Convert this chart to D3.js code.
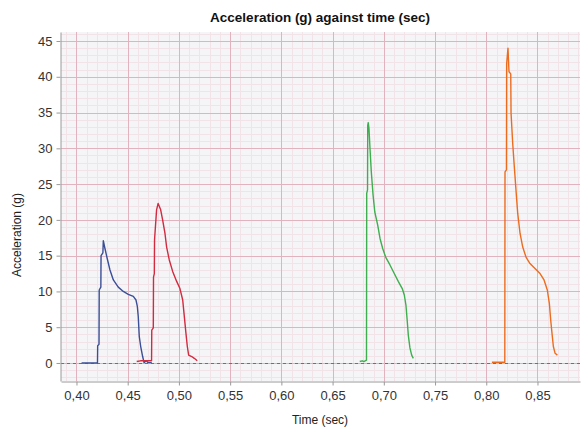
<!DOCTYPE html>
<html>
<head>
<meta charset="utf-8">
<script src="https://cdn.jsdelivr.net/npm/d3@7"></script>
<style>
  body { margin: 0; background: #fff; }
  text { font-family: "Liberation Sans", Arial, sans-serif; }
</style>
</head>
<body>
<svg id="chart" width="581" height="432"></svg>
<script>
// data: [time (sec), acceleration (g)]
var blue = [[0.405,0],[0.4205,0],[0.4207,2.4],[0.4220,2.6],[0.4222,10.2],[0.4238,10.6],[0.424,15],
  [0.4258,15.4],[0.4262,17.1],[0.4278,16.0],[0.430,14.6],
  [0.4327,13.0],[0.436,11.6],[0.4408,10.6],[0.4457,10.0],[0.4506,9.6],[0.4555,9.3],[0.4581,8.8],
  [0.4594,7.9],[0.4603,6.5],[0.4613,3.7],[0.4627,2.3],[0.4646,0.9],[0.466,0.05],[0.468,0.3],[0.470,0.05],[0.4735,0.05]];
var red = [[0.4588,0.2],[0.4625,0.3],[0.4733,0.3],[0.4735,4.6],[0.4750,4.9],[0.4752,12],[0.4760,12.5],
  [0.4762,17.2],[0.4782,21.4],[0.4797,22.3],
  [0.4822,21.4],[0.4841,20.0],[0.4864,18.1],[0.488,16.2],[0.4906,14.4],[0.4939,12.8],[0.4978,11.4],
  [0.501,10.4],[0.5037,8.8],[0.505,6.9],[0.5069,4.1],[0.5082,2.3],[0.5095,1.1],[0.5125,0.9],[0.515,0.65],[0.5179,0.3]];
var green = [[0.6765,0.2],[0.6790,0.3],[0.6805,0.2],[0.6831,0.4],[0.6833,23.7],[0.6841,24.2],[0.6843,33.2],
  [0.6848,33.6],[0.6855,32.8],[0.6865,30.0],[0.6878,26.7],[0.6895,23.5],[0.6912,21.1],[0.694,19.3],[0.6963,17.4],
  [0.6989,16.0],[0.7018,14.8],[0.706,13.7],[0.7102,12.5],[0.7141,11.4],[0.718,10.4],[0.72,9.5],
  [0.7216,8.1],[0.7229,5.8],[0.7239,3.9],[0.7255,2.1],[0.7272,1.1],[0.7288,0.65]];
var orange = [[0.8055,0.1],[0.8181,0.1],[0.8183,26.7],[0.8197,27.0],[0.8199,41.8],[0.8212,44.0],[0.8222,40.7],
  [0.8239,40.4],[0.8242,34.9],[0.8258,30.7],[0.8274,27.4],[0.829,24.2],[0.8307,20.9],[0.833,18.1],[0.8356,16.2],
  [0.8388,14.8],[0.8427,13.9],[0.8476,13.2],[0.8525,12.5],[0.8564,11.6],[0.8596,10.2],[0.8616,8.3],
  [0.8629,6.0],[0.8642,4.1],[0.8655,2.3],[0.8672,1.35],[0.8694,1.1]];
var series = [blue, red, green, orange];
var colors = ["#3b4f96", "#d22a3e", "#3fae4f", "#ec6c1f"];
var xTicks = [0.40,0.45,0.50,0.55,0.60,0.65,0.70,0.75,0.80,0.85];
var yTicks = [0,5,10,15,20,25,30,35,40,45];

function draw() {
  var svg = d3.select("#chart");
  var pl = 61, pt = 32, pr = 580, pb = 381;

  var x = d3.scaleLinear().domain([0.3849, 0.8915]).range([pl, pr]);
  var y = d3.scaleLinear().domain([-2.52, 46.26]).range([pb, pt]);

  // plot background
  svg.append("rect")
     .attr("x", pl).attr("y", pt)
     .attr("width", pr - pl).attr("height", pb - pt)
     .attr("fill", "#f5f5f8");

  // minor grid
  var xMinor = d3.range(0.39, 0.891, 0.01);
  var yMinor = d3.range(-2, 46.1, 1);
  svg.append("g").selectAll("line").data(xMinor).enter().append("line")
     .attr("x1", function(d) { return Math.round(x(d)) + 0.5; }).attr("x2", function(d) { return Math.round(x(d)) + 0.5; })
     .attr("y1", pt).attr("y2", pb)
     .attr("stroke", "#f1e3e8").attr("stroke-width", 1);
  svg.append("g").selectAll("line").data(yMinor).enter().append("line")
     .attr("x1", pl).attr("x2", pr)
     .attr("y1", function(d) { return Math.round(y(d)) + 0.5; }).attr("y2", function(d) { return Math.round(y(d)) + 0.5; })
     .attr("stroke", "#f1e3e8").attr("stroke-width", 1);

  // major grid
  svg.append("g").selectAll("line").data(xTicks).enter().append("line")
     .attr("x1", function(d) { return Math.round(x(d)) + 0.5; }).attr("x2", function(d) { return Math.round(x(d)) + 0.5; })
     .attr("y1", pt).attr("y2", pb)
     .attr("stroke", "#e0b3bf").attr("stroke-width", 1);
  svg.append("g").selectAll("line").data(yTicks).enter().append("line")
     .attr("x1", pl).attr("x2", pr)
     .attr("y1", function(d) { return Math.round(y(d)) + 0.5; }).attr("y2", function(d) { return Math.round(y(d)) + 0.5; })
     .attr("stroke", "#e0b3bf").attr("stroke-width", 1);

  // zero line
  svg.append("line")
     .attr("x1", pl).attr("x2", pr)
     .attr("y1", Math.round(y(0)) + 0.5).attr("y2", Math.round(y(0)) + 0.5)
     .attr("stroke", "#6c6c98").attr("stroke-width", 1)
     .attr("stroke-dasharray", "3,3");

  // axes
  var fmt = function(d) { return d3.format(".2f")(d).replace(".", ","); };
  var xAxis = svg.append("g")
     .attr("transform", "translate(0," + (pb + 0.5) + ")")
     .call(d3.axisBottom(x).tickValues(xTicks).tickFormat(fmt).tickSizeInner(4).tickSizeOuter(0));
  var yAxis = svg.append("g")
     .attr("transform", "translate(" + (pl - 0.5) + ",0)")
     .call(d3.axisLeft(y).tickValues(yTicks).tickSizeInner(4).tickSizeOuter(0));
  [xAxis, yAxis].forEach(function(a) {
    a.select(".domain").attr("stroke", "#9a9a9a");
    a.selectAll(".tick line").attr("stroke", "#9a9a9a");
    a.selectAll(".tick text").attr("fill", "#333").style("font-size", "13px")
     .style("font-family", "'Liberation Sans', Arial, sans-serif");
  });
  xAxis.selectAll(".tick text").attr("dy", "0.9em");
  yAxis.selectAll(".tick text").attr("x", -8);

  // series
  var line = d3.line()
     .x(function(d) { return x(d[0]); })
     .y(function(d) { return y(d[1]); });
  series.forEach(function(s, i) {
    svg.append("path")
       .attr("d", line(s))
       .attr("fill", "none")
       .attr("stroke", colors[i])
       .attr("stroke-width", 1.4)
       .attr("stroke-linejoin", "round");
  });

  // titles
  svg.append("text")
     .attr("x", 320).attr("y", 22)
     .attr("text-anchor", "middle")
     .style("font-size", "13.5px").style("font-weight", "bold")
     .attr("fill", "#111")
     .text("Acceleration (g) against time (sec)");
  svg.append("text")
     .attr("x", 320).attr("y", 424)
     .attr("text-anchor", "middle")
     .style("font-size", "12px")
     .attr("fill", "#222")
     .text("Time (sec)");
  svg.append("text")
     .attr("transform", "translate(21,235) rotate(-90)")
     .attr("text-anchor", "middle")
     .style("font-size", "12px")
     .attr("fill", "#222")
     .text("Acceleration (g)");
}
draw();
</script>
</body>
</html>
